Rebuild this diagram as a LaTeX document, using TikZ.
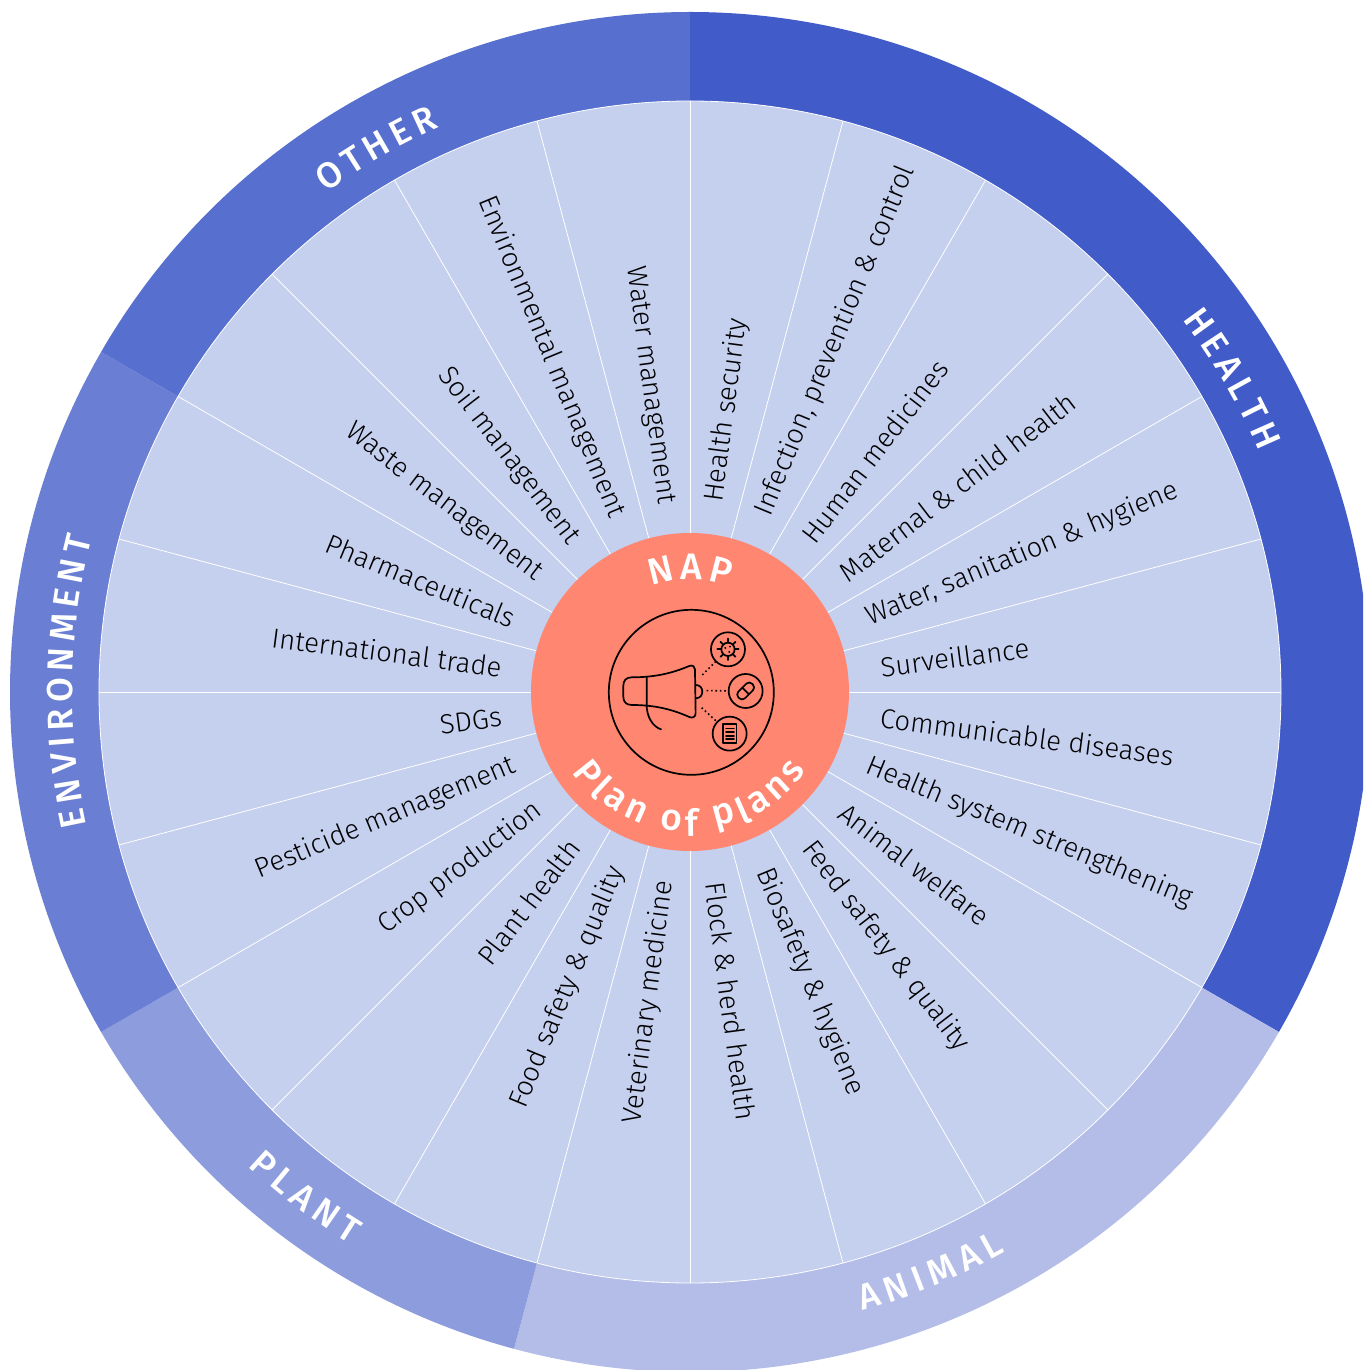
\documentclass[tikz,border=0pt]{standalone}
\usepackage{fontspec}
\newfontfamily\lab{Fira Sans Light}
\newfontfamily\capf{Fira Sans Medium}
\usetikzlibrary{calc}
\definecolor{chealth}{HTML}{415BC8}
\definecolor{cother}{HTML}{576FCE}
\definecolor{cenv}{HTML}{6A7FD3}
\definecolor{cplant}{HTML}{8C9CDD}
\definecolor{canimal}{HTML}{B3BDE8}
\definecolor{cwedge}{HTML}{C5CFEE}
\definecolor{ccore}{HTML}{FF8670}
\tikzset{
  spoke/.style={draw=white,line width=0.8pt},
  wedgelabel/.style={inner sep=0pt,text=black,font=\lab\fontsize{27.5}{30}\selectfont},
  ringline/.style={draw=black,line width=1.7pt},
  icon/.style={draw=black,line width=1.7pt,line join=round,line cap=round},
  dots/.style={draw=black,line width=1.6pt,dash pattern=on 1.6pt off 2.8pt},
}
\newlength\arcw
\newsavebox\arcbox
% #1 radius, #2 centre angle, #3 +1 tops outward, -1 tops inward, #4 tracking (pt), #5 font, #6 letters
\makeatletter
\newcommand\arcmeasure[2]{%
  \sbox\arcbox{\pgfinterruptpicture#1#2\endpgfinterruptpicture}%
  \global\arcw=\wd\arcbox
}
\newcommand\arcletters[6]{%
  \gdef\arc@tot{0}%
  \foreach \ltr in {#6}{%
    \arcmeasure{#5}{\ltr}%
    \pgfmathsetmacro\arc@t{\arc@tot+\the\arcw/1pt+#4}%
    \xdef\arc@tot{\arc@t}%
  }%
  \pgfmathsetmacro\arc@s{(\arc@tot-#4)/2}%
  \gdef\arc@pos{0}%
  \foreach \ltr in {#6}{%
    \arcmeasure{#5}{\ltr}%
    \pgfmathsetmacro\arc@m{\arc@pos+0.5*\the\arcw/1pt-\arc@s}%
    \pgfmathsetmacro\arc@ang{#2-#3*\arc@m/#1*57.29578}%
    \pgfmathsetmacro\arc@rot{\arc@ang-#3*90}%
    \node[inner sep=0pt,text=white,font=#5,rotate=\arc@rot] at (\arc@ang:#1pt) {\ltr};%
    \pgfmathsetmacro\arc@t{\arc@pos+\the\arcw/1pt+#4}%
    \xdef\arc@pos{\arc@t}%
  }%
}
\makeatother
\begin{document}
\begin{tikzpicture}[x=1pt,y=1pt]
\clip (-690,-678) rectangle (673,692);
% outer sectors
\fill[chealth] (0,0) -- (90:680pt) arc (90:-30:680pt) -- cycle;
\fill[canimal] (0,0) -- (-30:680pt) arc (-30:-105:680pt) -- cycle;
\fill[cplant] (0,0) -- (-105:680pt) arc (-105:-150:680pt) -- cycle;
\fill[cenv] (0,0) -- (-150:680pt) arc (-150:-210:680pt) -- cycle;
\fill[cother] (0,0) -- (150:680pt) arc (150:90:680pt) -- cycle;
% wedge disc and spokes
\node[circle,minimum size=1182pt,inner sep=0pt,fill=cwedge,draw=white,line width=0.8pt] (disc) at (0,0) {};
\foreach \a in {0,15,...,345}{\draw[spoke] (0,0) -- (\a:591pt);}
% core
\node[circle,minimum size=318pt,inner sep=0pt,fill=ccore] (core) at (0,0) {};
% wedge labels
\foreach \a/\t in {82.5/Health security,67.5/{Infection, prevention \& control},52.5/Human medicines,37.5/Maternal \& child health,22.5/{Water, sanitation \& hygiene},7.5/Surveillance,-7.5/Communicable diseases,-22.5/Health system strengthening,-37.5/Animal welfare,-52.5/Feed safety \& quality,-67.5/Biosafety \& hygiene,-82.5/Flock \& herd health}{
  \node[wedgelabel,anchor=west,rotate=\a] at (\a:192pt) {\t};
}
\foreach \a/\t in {97.5/Water management,112.5/Environmental management,127.5/Soil management,142.5/Waste management,157.5/Pharmaceuticals,172.5/International trade,187.5/SDGs,202.5/Pesticide management,217.5/Crop production,232.5/Plant health,247.5/Food safety \& quality,262.5/Veterinary medicine}{
  \node[wedgelabel,anchor=east,rotate=\a-180] at (\a:190pt) {\t};
}
% sector titles
\arcletters{630}{30}{1}{6}{\capf\fontsize{36}{38}\selectfont}{H,E,A,L,T,H}
\arcletters{630}{120}{1}{6}{\capf\fontsize{36}{38}\selectfont}{O,T,H,E,R}
\arcletters{630}{179}{1}{6}{\capf\fontsize{36}{38}\selectfont}{E,N,V,I,R,O,N,M,E,N,T}
\arcletters{636}{-127.3}{-1}{6}{\capf\fontsize{36}{38}\selectfont}{P,L,A,N,T}
\arcletters{630}{-67.5}{-1}{6}{\capf\fontsize{36}{38}\selectfont}{A,N,I,M,A,L}
\arcletters{125}{90}{1}{8}{\capf\fontsize{37}{39}\selectfont}{N,A,P}
\arcletters{130}{-90}{-1}{3}{\capf\fontsize{37}{39}\selectfont}{P,l,a,n,\ ,o,f,\ ,p,l,a,n,s}
% icon, in zoom-crop coordinates
\begin{scope}[shift={(-160pt,162pt)},x=0.3333pt,y=-0.3333pt]
\node[circle,ringline,minimum size=165pt,inner sep=0pt] (ring) at (484,487) {};
\node[circle,ringline,minimum size=34pt,inner sep=0pt] (virus) at (594,358) {};
\node[circle,ringline,minimum size=34pt,inner sep=0pt] (pill) at (647,483) {};
\node[circle,ringline,minimum size=34pt,inner sep=0pt] (doc) at (599,611) {};
% megaphone
\draw[icon] (305,442) .. controls (380,442) and (430,428) .. (478,408) .. controls (488,404) and (495,410) .. (495,418) -- (497,550) .. controls (497,560) and (488,566) .. (478,561) .. controls (430,540) and (380,525) .. (305,525) .. controls (288,525) and (280,515) .. (280,500) -- (280,468) .. controls (280,452) and (288,442) .. (305,442) -- cycle;
\draw[icon] (350,442) -- (350,525) .. controls (350,560) and (368,590) .. (393,598);
\draw[icon] (497,465) .. controls (510,465) and (517,474) .. (517,485) .. controls (517,496) and (510,505) .. (497,505);
% dotted connectors
\coordinate (m1) at (517,435);
\coordinate (m2) at (530,482);
\coordinate (m3) at (515,533);
\draw[dots] (m1) -- (virus);
\draw[dots] (m2) -- (pill);
\draw[dots] (m3) -- (doc);
% virus
\draw[icon] (594,358) circle (20);
\foreach \a in {0,45,...,315}{\draw[icon] ($(594,358)+(\a:20)$) -- ($(594,358)+(\a:32)$);}
\fill (586,354) circle (3.2);\fill (600,350) circle (3.2);\fill (598,366) circle (3.2);
% pill
\begin{scope}[shift={(647,483)},rotate=45]
\draw[icon,rounded corners=4pt] (-29,-14) rectangle (29,14);
\draw[icon] (0,-14) -- (0,14);
\end{scope}
% document
\draw[icon] (580,582) rectangle (620,640);
\foreach \y in {596,607,618,628}{\draw[icon] (588,\y) -- (612,\y);}
\end{scope}
\end{tikzpicture}
\end{document}
